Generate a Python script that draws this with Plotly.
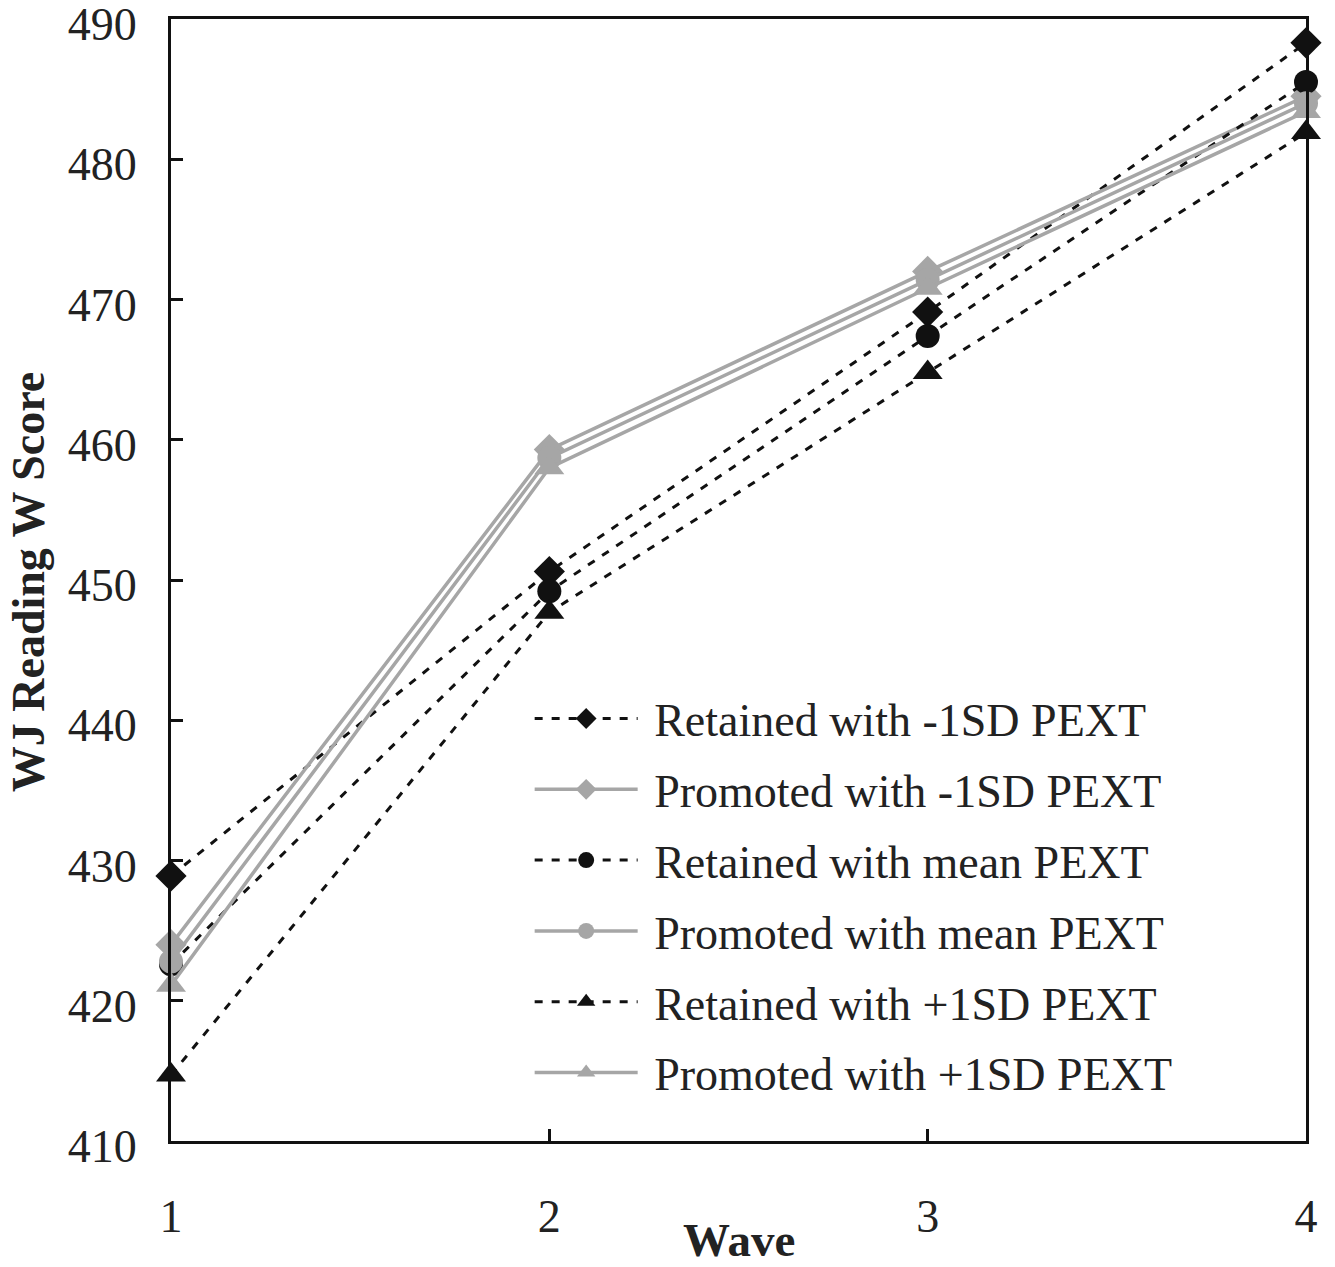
import plotly.graph_objects as go

waves = [1, 2, 3, 4]
retained_m1sd = [428.9, 450.6, 469.1, 488.3]
promoted_m1sd = [424.0, 459.3, 472.0, 484.5]
retained_mean = [422.6, 449.2, 467.4, 485.5]
promoted_mean = [422.8, 458.7, 471.4, 484.0]
retained_p1sd = [414.7, 447.7, 464.8, 481.9]
promoted_p1sd = [421.1, 458.0, 470.8, 483.4]
y_ticks = [410, 420, 430, 440, 450, 460, 470, 480, 490]

names = [
    "Retained with -1SD PEXT",
    "Promoted with -1SD PEXT",
    "Retained with mean PEXT",
    "Promoted with mean PEXT",
    "Retained with +1SD PEXT",
    "Promoted with +1SD PEXT",
]
series = [retained_m1sd, promoted_m1sd, retained_mean, promoted_mean, retained_p1sd, promoted_p1sd]
symbols = ["diamond", "diamond", "circle", "circle", "triangle-up", "triangle-up"]
sizes = [24, 24, 24, 24, 26, 26]

BLACK = "#111111"
GRAY = "#a6a6a6"

fig = go.Figure()
for i, (nm, ys, sym, sz) in enumerate(zip(names, series, symbols, sizes)):
    retained = nm.startswith("Retained")
    color = BLACK if retained else GRAY
    fig.add_trace(go.Scatter(
        x=waves, y=ys, name="\u00a0" + nm, mode="lines+markers",
        legendgroup=f"g{i}",
        line=dict(color=color, width=3 if retained else 3.5,
                  dash="8px,9px" if retained else "solid"),
        marker=dict(symbol=sym, size=sz, color=color),
        cliponaxis=False,
    ))

FONT = "Liberation Serif, Times New Roman, serif"
TXT = "#222222"

fig.update_layout(
    width=1335, height=1267,
    margin=dict(l=171, r=29, t=19, b=126),
    paper_bgcolor="white", plot_bgcolor="white",
    font=dict(family=FONT, size=46, color=TXT),
    showlegend=True,
    legend=dict(
        x=0.316, y=0.409, xanchor="left", yanchor="top",
        bgcolor="rgba(0,0,0,0)", borderwidth=0,
        font=dict(family=FONT, size=46, color=TXT),
        itemwidth=103, tracegroupgap=8,
    ),
    xaxis=dict(
        range=[1, 4], tickvals=waves, ticktext=[str(w) for w in waves],
        automargin=False,
        showgrid=False, zeroline=False,
        showline=True, linecolor="#111111", linewidth=3, mirror=True,
        ticks="inside", ticklen=12, tickwidth=3, tickcolor="#111111",
        ticklabelstandoff=33, ticklabeloverflow="allow",
        tickfont=dict(family=FONT, size=46, color=TXT),
    ),
    yaxis=dict(
        range=[410, 490], tickvals=y_ticks, ticktext=[str(v) for v in y_ticks],
        automargin=False,
        showgrid=False, zeroline=False,
        showline=True, linecolor="#111111", linewidth=3, mirror=True,
        ticks="inside", ticklen=12, tickwidth=3, tickcolor="#111111",
        ticklabelstandoff=22, ticklabeloverflow="allow", ticklabelshift=5,
        tickfont=dict(family=FONT, size=46, color=TXT),
    ),
    annotations=[
        dict(text="<b>Wave</b>", xref="paper", yref="paper", x=0.5, y=-0.088,
             xanchor="center", yanchor="middle", showarrow=False,
             font=dict(family=FONT, size=47, color=TXT)),
        dict(text="<b>WJ Reading W Score</b>", xref="paper", yref="paper", x=-0.126, y=0.498,
             xanchor="center", yanchor="middle", showarrow=False, textangle=-90,
             font=dict(family=FONT, size=46, color=TXT)),
    ],
)

fig.write_html("out.html", config={"displayModeBar": False},
               post_script="document.body.style.margin='0';")
